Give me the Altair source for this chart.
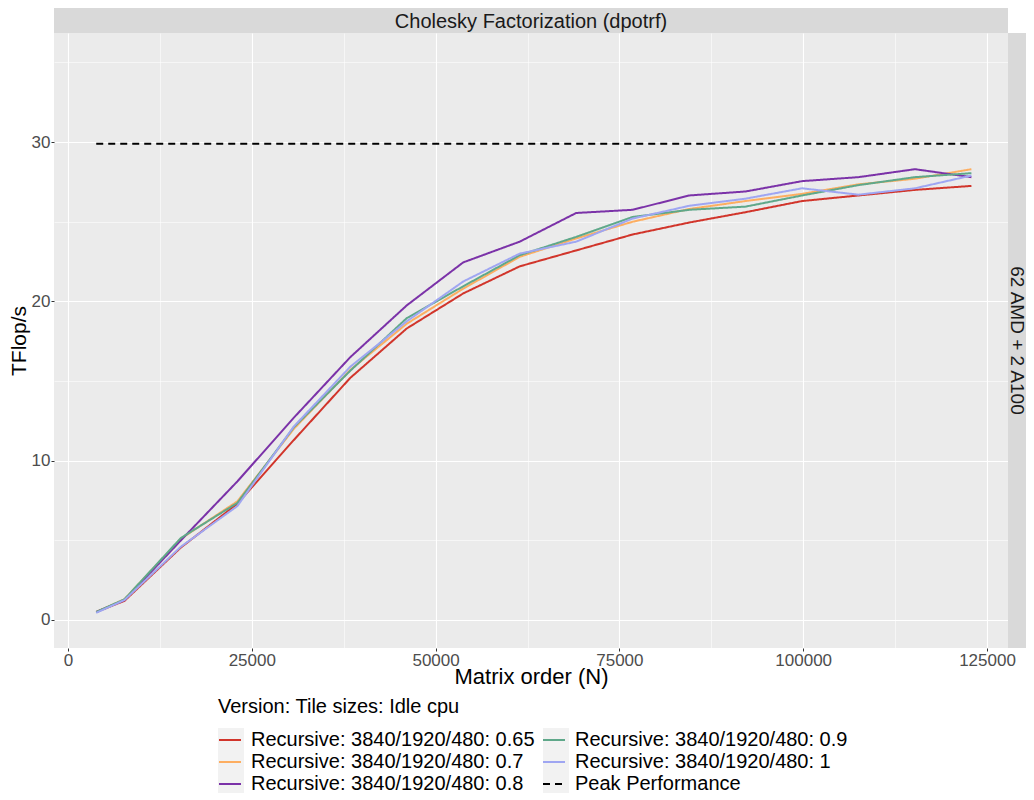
import altair as alt
import pandas as pd

# ---------------- data ----------------
N = [3840, 7680, 15360, 23040, 30720, 38400, 46080, 53760, 61440,
     69120, 76800, 84480, 92160, 99840, 107520, 115200, 122880]

series_names = [
    "Recursive: 3840/1920/480: 0.65",
    "Recursive: 3840/1920/480: 0.7",
    "Recursive: 3840/1920/480: 0.8",
    "Recursive: 3840/1920/480: 0.9",
    "Recursive: 3840/1920/480: 1",
]
peak_name = "Peak Performance"

tf_065 = [0.50, 1.20, 4.55, 7.30, 11.30, 15.20, 18.30, 20.50, 22.20,
          23.20, 24.20, 24.95, 25.60, 26.30, 26.65, 27.00, 27.25]
tf_07 = [0.50, 1.30, 5.10, 7.45, 12.00, 15.70, 18.60, 20.80, 22.80,
         23.95, 25.00, 25.80, 26.30, 26.75, 27.35, 27.70, 28.30]
tf_08 = [0.50, 1.25, 5.00, 8.70, 12.70, 16.50, 19.75, 22.45, 23.75,
         25.55, 25.75, 26.65, 26.90, 27.55, 27.80, 28.30, 27.80]
tf_09 = [0.50, 1.30, 5.15, 7.35, 12.10, 15.65, 18.95, 20.95, 22.90,
         24.05, 25.30, 25.75, 25.95, 26.65, 27.30, 27.80, 28.05]
tf_1 = [0.45, 1.25, 4.60, 7.15, 12.15, 15.90, 18.75, 21.25, 23.00,
        23.75, 25.20, 26.00, 26.45, 27.10, 26.70, 27.10, 27.90]

peak_N = [3840, 122880]
peak_val = [29.9, 29.9]

series_colors = ["#d1352b", "#fdae61", "#7b32a8", "#5fa88a", "#9fa6f2"]
peak_color = "#000000"

panel_title = "Cholesky Factorization (dpotrf)"
row_title = "62 AMD + 2 A100"
legend_title = "Version: Tile sizes: Idle cpu"

x_ticks = [0, 12500, 25000, 37500, 50000, 62500, 75000, 87500, 100000, 112500, 125000]
y_ticks = [0, 5, 10, 15, 20, 25, 30, 35]

# ---------------- build table ----------------
rows = []
for name, vals in zip(series_names, [tf_065, tf_07, tf_08, tf_09, tf_1]):
    for n, v in zip(N, vals):
        rows.append({"N": n, "TFlops": v, "series": name})
for n, v in zip(peak_N, peak_val):
    rows.append({"N": n, "TFlops": v, "series": peak_name})
df = pd.DataFrame(rows)

all_names = series_names + [peak_name]
all_colors = series_colors + [peak_color]
all_dash = [[1, 0]] * 5 + [[7, 5]]

W, H = 954, 615
FONT = "Liberation Sans"
STRIP = 25
RSTRIP = 18

major_x = "datum.value % 25000 === 0"
major_y = "datum.value % 10 === 0"

x_axis = alt.Axis(
    values=x_ticks, format="d",
    labelExpr=f"{major_x} ? datum.label : ''",
    grid=True, gridColor="#ffffff",
    gridWidth={"condition": {"test": major_x, "value": 1.1}, "value": 0.55},
    tickOpacity={"condition": {"test": major_x, "value": 1}, "value": 0},
    tickColor="#333333", tickSize=3, tickWidth=1,
    domain=False, labelFontSize=17, labelColor="#4d4d4d", labelPadding=1,
    labelFont=FONT, titleFont=FONT, titleFontSize=22, titleFontWeight="normal",
    titleColor="#000000", titlePadding=-2, labelFlush=False,
)
y_axis = alt.Axis(
    values=y_ticks, format="d",
    labelExpr=f"{major_y} ? datum.label : ''",
    grid=True, gridColor="#ffffff",
    gridWidth={"condition": {"test": major_y, "value": 1.1}, "value": 0.55},
    tickOpacity={"condition": {"test": major_y, "value": 1}, "value": 0},
    tickColor="#333333", tickSize=3, tickWidth=1,
    domain=False, labelFontSize=17, labelColor="#4d4d4d", labelPadding=1,
    labelFont=FONT, titleFont=FONT, titleFontSize=21, titleFontWeight="normal",
    titleColor="#000000", titlePadding=2, labelFlush=False,
)

LEG_X, LEG_Y = 164, 664
legend = alt.Legend(
    title=legend_title, orient="none", legendX=LEG_X, legendY=LEG_Y,
    columns=2, columnPadding=4, rowPadding=0,
    symbolType="stroke", symbolStrokeWidth=2, symbolSize=484,
    labelFontSize=20, labelFont=FONT, labelColor="#000000", labelLimit=0,
    labelOffset=9,
    titleFontSize=20, titleFont=FONT, titleFontWeight="normal",
    titleColor="#000000", titlePadding=11, titleLimit=0,
)

lines = alt.Chart(df).mark_line(strokeWidth=2).encode(
    x=alt.X("N:Q", title="Matrix order (N)",
            scale=alt.Scale(domain=[-1904, 127856], nice=False, zero=False),
            axis=x_axis),
    y=alt.Y("TFlops:Q", title="TFlop/s",
            scale=alt.Scale(domain=[-1.76, 36.85], nice=False, zero=False),
            axis=y_axis),
    color=alt.Color("series:N", scale=alt.Scale(domain=all_names, range=all_colors),
                    legend=legend),
    strokeDash=alt.StrokeDash("series:N", scale=alt.Scale(domain=all_names, range=all_dash),
                              legend=legend),
    detail="series:N",
)

top_df = pd.DataFrame({"label": [panel_title]})
right_df = pd.DataFrame({"label": [row_title]})
key_df = pd.DataFrame({"k": [0]})

strip_top = alt.Chart(top_df).mark_rect(color="#d9d9d9").encode(
    x=alt.value(0), x2=alt.value(W), y=alt.value(-STRIP), y2=alt.value(0))
strip_top_text = alt.Chart(top_df).mark_text(
    font=FONT, fontSize=20, color="#1a1a1a", baseline="middle", align="center"
).encode(x=alt.value(W / 2), y=alt.value(-STRIP / 2 + 1), text="label:N")

strip_right = alt.Chart(right_df).mark_rect(color="#d9d9d9").encode(
    x=alt.value(W), x2=alt.value(W + RSTRIP), y=alt.value(0), y2=alt.value(H))
strip_right_text = alt.Chart(right_df).mark_text(
    font=FONT, fontSize=19, color="#1a1a1a", baseline="middle", align="center", angle=90
).encode(x=alt.value(W + RSTRIP / 2 - 0.5), y=alt.value(H / 2), text="label:N")

# light-grey legend key backgrounds (ggplot style)
key_bg1 = alt.Chart(key_df).mark_rect(color="#f2f2f2").encode(
    x=alt.value(LEG_X), x2=alt.value(LEG_X + 26),
    y=alt.value(LEG_Y + 31), y2=alt.value(LEG_Y + 96))
key_bg2 = alt.Chart(key_df).mark_rect(color="#f2f2f2").encode(
    x=alt.value(LEG_X + 325), x2=alt.value(LEG_X + 351),
    y=alt.value(LEG_Y + 31), y2=alt.value(LEG_Y + 96))

chart = alt.layer(
    key_bg1, key_bg2, lines, strip_top, strip_top_text, strip_right, strip_right_text
).properties(
    width=W, height=H, padding={"left": 0, "top": 0, "right": 0, "bottom": 0},
    background="#ffffff",
).configure_view(
    fill="#ebebeb", strokeWidth=0
)

chart.save("out.html", embed_options={"renderer": "svg", "actions": False})
